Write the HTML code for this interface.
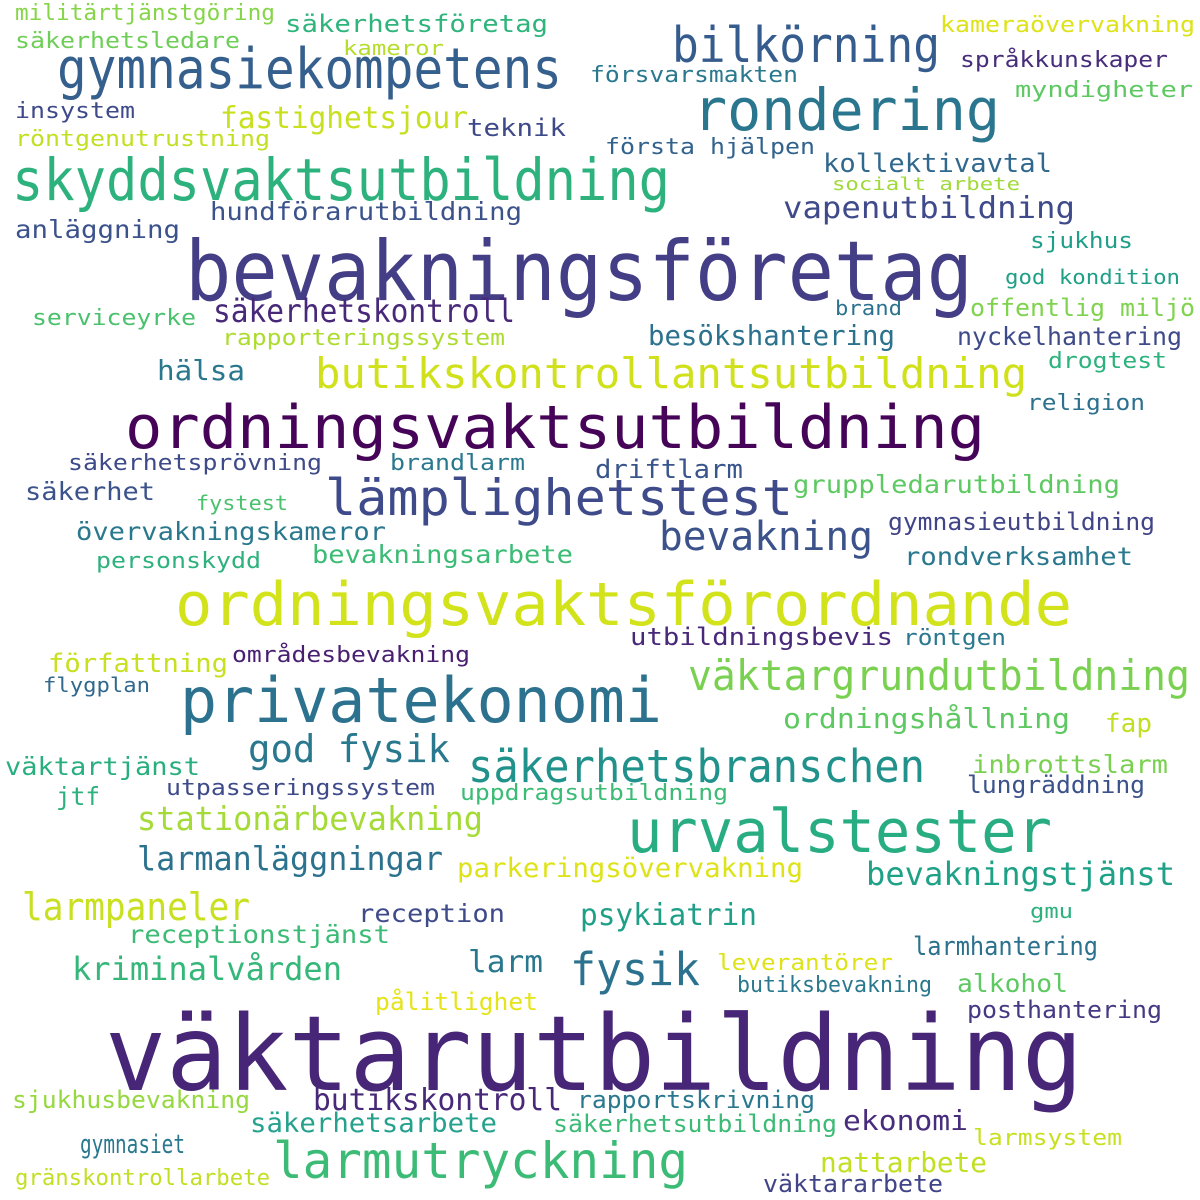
<!DOCTYPE html>
<html><head><meta charset="utf-8"><style>
html,body{margin:0;padding:0;background:#fff;width:1200px;height:1200px;overflow:hidden}
svg text{font-family:"DejaVu Sans Mono","Liberation Mono",monospace;}
</style></head><body>
<svg width="1200" height="1200" viewBox="0 0 1200 1200" xmlns="http://www.w3.org/2000/svg">
<rect width="1200" height="1200" fill="#fff"/>
<g>
<text x="15" y="20" font-size="22" textLength="260" lengthAdjust="spacingAndGlyphs" fill="#86d549">militärtjänstgöring</text>
<text x="15" y="48" font-size="22" textLength="225" lengthAdjust="spacingAndGlyphs" fill="#6ece58">säkerhetsledare</text>
<text x="285" y="32" font-size="24" textLength="263" lengthAdjust="spacingAndGlyphs" fill="#2fb47c">säkerhetsföretag</text>
<text x="343" y="55" font-size="20" textLength="101" lengthAdjust="spacingAndGlyphs" fill="#b5de2b">kameror</text>
<text x="57" y="88" font-size="56" textLength="505" lengthAdjust="spacingAndGlyphs" fill="#355f8d">gymnasiekompetens</text>
<text x="672" y="62" font-size="49" textLength="268" lengthAdjust="spacingAndGlyphs" fill="#365c8d">bilkörning</text>
<text x="940" y="32" font-size="22" textLength="255" lengthAdjust="spacingAndGlyphs" fill="#dde318">kameraövervakning</text>
<text x="960" y="67" font-size="22" textLength="208" lengthAdjust="spacingAndGlyphs" fill="#472d7b">språkkunskaper</text>
<text x="590" y="82" font-size="22" textLength="208" lengthAdjust="spacingAndGlyphs" fill="#2a788e">försvarsmakten</text>
<text x="693" y="130" font-size="58" textLength="307" lengthAdjust="spacingAndGlyphs" fill="#2a768e">rondering</text>
<text x="1015" y="97" font-size="22" textLength="178" lengthAdjust="spacingAndGlyphs" fill="#5ec962">myndigheter</text>
<text x="15" y="118" font-size="22" textLength="120" lengthAdjust="spacingAndGlyphs" fill="#3e4a89">insystem</text>
<text x="15" y="146" font-size="22" textLength="255" lengthAdjust="spacingAndGlyphs" fill="#c2df23">röntgenutrustning</text>
<text x="220" y="128" font-size="30" textLength="248" lengthAdjust="spacingAndGlyphs" fill="#c8e020">fastighetsjour</text>
<text x="467" y="136" font-size="24" textLength="99" lengthAdjust="spacingAndGlyphs" fill="#3e4989">teknik</text>
<text x="605" y="154" font-size="22" textLength="210" lengthAdjust="spacingAndGlyphs" fill="#33638d">första hjälpen</text>
<text x="823" y="172" font-size="26" textLength="229" lengthAdjust="spacingAndGlyphs" fill="#31688e">kollektivavtal</text>
<text x="832" y="190" font-size="18" textLength="188" lengthAdjust="spacingAndGlyphs" fill="#a0da39">socialt arbete</text>
<text x="12" y="200" font-size="58" textLength="658" lengthAdjust="spacingAndGlyphs" fill="#2db27d">skyddsvaktsutbildning</text>
<text x="210" y="220" font-size="25" textLength="312" lengthAdjust="spacingAndGlyphs" fill="#3b528b">hundförarutbildning</text>
<text x="783" y="218" font-size="30" textLength="292" lengthAdjust="spacingAndGlyphs" fill="#3e4a89">vapenutbildning</text>
<text x="15" y="238" font-size="25" textLength="165" lengthAdjust="spacingAndGlyphs" fill="#3b528b">anläggning</text>
<text x="1030" y="248" font-size="22" textLength="103" lengthAdjust="spacingAndGlyphs" fill="#1f9e89">sjukhus</text>
<text x="1005" y="284" font-size="20" textLength="175" lengthAdjust="spacingAndGlyphs" fill="#1f9f88">god kondition</text>
<text x="185" y="300" font-size="83" textLength="788" lengthAdjust="spacingAndGlyphs" fill="#433e85">bevakningsföretag</text>
<text x="835" y="315" font-size="20" textLength="67" lengthAdjust="spacingAndGlyphs" fill="#2c728e">brand</text>
<text x="970" y="316" font-size="24" textLength="225" lengthAdjust="spacingAndGlyphs" fill="#7fd34e">offentlig miljö</text>
<text x="32" y="325" font-size="22" textLength="164" lengthAdjust="spacingAndGlyphs" fill="#4ac16d">serviceyrke</text>
<text x="213" y="322" font-size="32" textLength="302" lengthAdjust="spacingAndGlyphs" fill="#482878">säkerhetskontroll</text>
<text x="222" y="345" font-size="22" textLength="283" lengthAdjust="spacingAndGlyphs" fill="#addc30">rapporteringssystem</text>
<text x="648" y="345" font-size="28" textLength="247" lengthAdjust="spacingAndGlyphs" fill="#2c728e">besökshantering</text>
<text x="957" y="345" font-size="25" textLength="225" lengthAdjust="spacingAndGlyphs" fill="#3e4a89">nyckelhantering</text>
<text x="157" y="380" font-size="28" textLength="88" lengthAdjust="spacingAndGlyphs" fill="#2a788e">hälsa</text>
<text x="315" y="388" font-size="42" textLength="712" lengthAdjust="spacingAndGlyphs" fill="#d0e11c">butikskontrollantsutbildning</text>
<text x="1048" y="368" font-size="22" textLength="119" lengthAdjust="spacingAndGlyphs" fill="#2db27d">drogtest</text>
<text x="1027" y="410" font-size="22" textLength="118" lengthAdjust="spacingAndGlyphs" fill="#2c728e">religion</text>
<text x="125" y="448" font-size="60" textLength="860" lengthAdjust="spacingAndGlyphs" fill="#450457">ordningsvaktsutbildning</text>
<text x="68" y="470" font-size="22" textLength="254" lengthAdjust="spacingAndGlyphs" fill="#3e4a89">säkerhetsprövning</text>
<text x="390" y="470" font-size="22" textLength="135" lengthAdjust="spacingAndGlyphs" fill="#2a788e">brandlarm</text>
<text x="595" y="478" font-size="26" textLength="148" lengthAdjust="spacingAndGlyphs" fill="#39568c">driftlarm</text>
<text x="25" y="500" font-size="25" textLength="130" lengthAdjust="spacingAndGlyphs" fill="#3b528b">säkerhet</text>
<text x="196" y="510" font-size="20" textLength="92" lengthAdjust="spacingAndGlyphs" fill="#4ac16d">fystest</text>
<text x="325" y="515" font-size="50" textLength="468" lengthAdjust="spacingAndGlyphs" fill="#3e4a89">lämplighetstest</text>
<text x="793" y="493" font-size="25" textLength="327" lengthAdjust="spacingAndGlyphs" fill="#5ec962">gruppledarutbildning</text>
<text x="76" y="540" font-size="25" textLength="310" lengthAdjust="spacingAndGlyphs" fill="#2a788e">övervakningskameror</text>
<text x="888" y="530" font-size="24" textLength="267" lengthAdjust="spacingAndGlyphs" fill="#414487">gymnasieutbildning</text>
<text x="659" y="550" font-size="40" textLength="214" lengthAdjust="spacingAndGlyphs" fill="#3b528b">bevakning</text>
<text x="96" y="568" font-size="22" textLength="165" lengthAdjust="spacingAndGlyphs" fill="#2db27d">personskydd</text>
<text x="312" y="563" font-size="25" textLength="261" lengthAdjust="spacingAndGlyphs" fill="#3bbb75">bevakningsarbete</text>
<text x="904" y="565" font-size="25" textLength="229" lengthAdjust="spacingAndGlyphs" fill="#2a788e">rondverksamhet</text>
<text x="175" y="625" font-size="60" textLength="897" lengthAdjust="spacingAndGlyphs" fill="#d2e21b">ordningsvaktsförordnande</text>
<text x="630" y="645" font-size="24" textLength="263" lengthAdjust="spacingAndGlyphs" fill="#482878">utbildningsbevis</text>
<text x="903" y="645" font-size="22" textLength="103" lengthAdjust="spacingAndGlyphs" fill="#2a788e">röntgen</text>
<text x="48" y="672" font-size="26" textLength="180" lengthAdjust="spacingAndGlyphs" fill="#c8e020">författning</text>
<text x="232" y="662" font-size="22" textLength="238" lengthAdjust="spacingAndGlyphs" fill="#481f71">områdesbevakning</text>
<text x="43" y="692" font-size="20" textLength="107" lengthAdjust="spacingAndGlyphs" fill="#31688e">flygplan</text>
<text x="688" y="690" font-size="42" textLength="502" lengthAdjust="spacingAndGlyphs" fill="#7ad151">väktargrundutbildning</text>
<text x="180" y="722" font-size="62" textLength="482" lengthAdjust="spacingAndGlyphs" fill="#2c728e">privatekonomi</text>
<text x="783" y="728" font-size="28" textLength="287" lengthAdjust="spacingAndGlyphs" fill="#5ec962">ordningshållning</text>
<text x="1105" y="732" font-size="26" textLength="47" lengthAdjust="spacingAndGlyphs" fill="#c2df23">fap</text>
<text x="248" y="762" font-size="38" textLength="202" lengthAdjust="spacingAndGlyphs" fill="#2a788e">god fysik</text>
<text x="5" y="775" font-size="25" textLength="195" lengthAdjust="spacingAndGlyphs" fill="#29af7f">väktartjänst</text>
<text x="468" y="782" font-size="45" textLength="457" lengthAdjust="spacingAndGlyphs" fill="#21918c">säkerhetsbranschen</text>
<text x="972" y="773" font-size="25" textLength="196" lengthAdjust="spacingAndGlyphs" fill="#7ad151">inbrottslarm</text>
<text x="166" y="795" font-size="22" textLength="269" lengthAdjust="spacingAndGlyphs" fill="#3e4a89">utpasseringssystem</text>
<text x="460" y="800" font-size="22" textLength="268" lengthAdjust="spacingAndGlyphs" fill="#3bbb75">uppdragsutbildning</text>
<text x="967" y="793" font-size="24" textLength="178" lengthAdjust="spacingAndGlyphs" fill="#3b528b">lungräddning</text>
<text x="56" y="805" font-size="25" textLength="44" lengthAdjust="spacingAndGlyphs" fill="#2db27d">jtf</text>
<text x="137" y="830" font-size="33" textLength="346" lengthAdjust="spacingAndGlyphs" fill="#a5db36">stationärbevakning</text>
<text x="627" y="852" font-size="60" textLength="425" lengthAdjust="spacingAndGlyphs" fill="#27ad81">urvalstester</text>
<text x="137" y="870" font-size="33" textLength="306" lengthAdjust="spacingAndGlyphs" fill="#2c728e">larmanläggningar</text>
<text x="457" y="877" font-size="27" textLength="346" lengthAdjust="spacingAndGlyphs" fill="#dde318">parkeringsövervakning</text>
<text x="866" y="885" font-size="32" textLength="309" lengthAdjust="spacingAndGlyphs" fill="#1fa187">bevakningstjänst</text>
<text x="22" y="920" font-size="38" textLength="228" lengthAdjust="spacingAndGlyphs" fill="#c8e020">larmpaneler</text>
<text x="358" y="922" font-size="25" textLength="147" lengthAdjust="spacingAndGlyphs" fill="#3e4a89">reception</text>
<text x="580" y="925" font-size="30" textLength="177" lengthAdjust="spacingAndGlyphs" fill="#1f9f88">psykiatrin</text>
<text x="1030" y="918" font-size="20" textLength="43" lengthAdjust="spacingAndGlyphs" fill="#2db27d">gmu</text>
<text x="128" y="943" font-size="25" textLength="262" lengthAdjust="spacingAndGlyphs" fill="#3bbb75">receptionstjänst</text>
<text x="913" y="955" font-size="26" textLength="185" lengthAdjust="spacingAndGlyphs" fill="#2c728e">larmhantering</text>
<text x="72" y="980" font-size="32" textLength="270" lengthAdjust="spacingAndGlyphs" fill="#35b779">kriminalvården</text>
<text x="468" y="972" font-size="30" textLength="75" lengthAdjust="spacingAndGlyphs" fill="#2a788e">larm</text>
<text x="570" y="985" font-size="45" textLength="130" lengthAdjust="spacingAndGlyphs" fill="#2c728e">fysik</text>
<text x="717" y="970" font-size="22" textLength="176" lengthAdjust="spacingAndGlyphs" fill="#dde318">leverantörer</text>
<text x="737" y="992" font-size="22" textLength="195" lengthAdjust="spacingAndGlyphs" fill="#2a788e">butiksbevakning</text>
<text x="957" y="992" font-size="25" textLength="111" lengthAdjust="spacingAndGlyphs" fill="#5ec962">alkohol</text>
<text x="375" y="1010" font-size="24" textLength="163" lengthAdjust="spacingAndGlyphs" fill="#e5e419">pålitlighet</text>
<text x="967" y="1018" font-size="24" textLength="195" lengthAdjust="spacingAndGlyphs" fill="#443983">posthantering</text>
<text x="105" y="1090" font-size="104" textLength="978" lengthAdjust="spacingAndGlyphs" fill="#482677">väktarutbildning</text>
<text x="12" y="1108" font-size="24" textLength="238" lengthAdjust="spacingAndGlyphs" fill="#95d840">sjukhusbevakning</text>
<text x="313" y="1110" font-size="30" textLength="249" lengthAdjust="spacingAndGlyphs" fill="#482878">butikskontroll</text>
<text x="577" y="1108" font-size="24" textLength="238" lengthAdjust="spacingAndGlyphs" fill="#2a788e">rapportskrivning</text>
<text x="250" y="1132" font-size="27" textLength="247" lengthAdjust="spacingAndGlyphs" fill="#25a18e">säkerhetsarbete</text>
<text x="553" y="1132" font-size="24" textLength="284" lengthAdjust="spacingAndGlyphs" fill="#3bbb75">säkerhetsutbildning</text>
<text x="843" y="1130" font-size="28" textLength="125" lengthAdjust="spacingAndGlyphs" fill="#472d7b">ekonomi</text>
<text x="973" y="1145" font-size="22" textLength="149" lengthAdjust="spacingAndGlyphs" fill="#c8e020">larmsystem</text>
<text x="80" y="1153" font-size="26" textLength="105" lengthAdjust="spacingAndGlyphs" fill="#2a788e">gymnasiet</text>
<text x="273" y="1178" font-size="50" textLength="415" lengthAdjust="spacingAndGlyphs" fill="#3bbb75">larmutryckning</text>
<text x="820" y="1172" font-size="28" textLength="167" lengthAdjust="spacingAndGlyphs" fill="#c2df23">nattarbete</text>
<text x="15" y="1185" font-size="22" textLength="255" lengthAdjust="spacingAndGlyphs" fill="#c2df23">gränskontrollarbete</text>
<text x="763" y="1192" font-size="24" textLength="180" lengthAdjust="spacingAndGlyphs" fill="#414487">väktararbete</text>
</g>
</svg>
</body></html>
